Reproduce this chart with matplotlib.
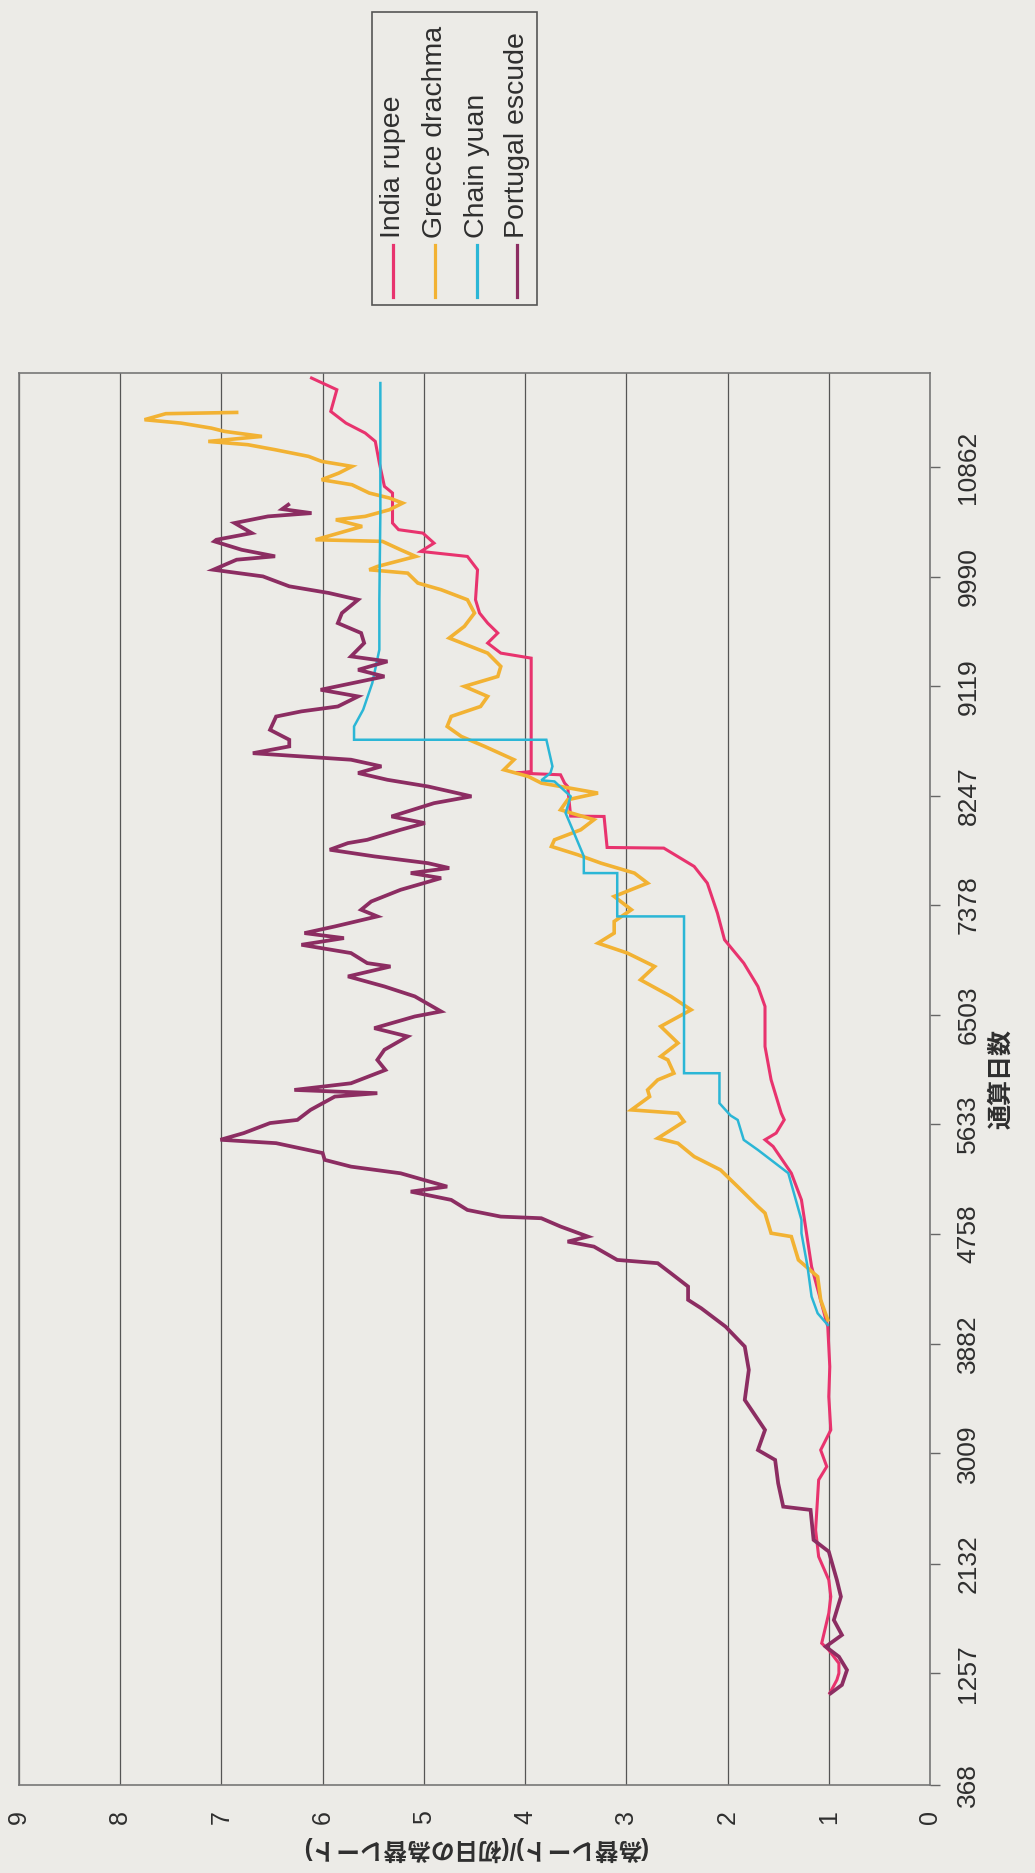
import matplotlib
matplotlib.use("Agg")
import matplotlib.pyplot as plt
from matplotlib.lines import Line2D
from matplotlib.patches import Rectangle

plt.rcParams['font.family'] = ['Liberation Sans', 'Noto Sans CJK JP', 'DejaVu Sans']

# category labels of the day axis and the ratio axis
day_ticks = [368, 1257, 2132, 3009, 3882, 4758, 5633, 6503, 7378, 8247, 9119, 9990, 10862]
ratio_ticks = list(range(10))

series_names = ['India rupee', 'Greece drachma', 'Chain yuan', 'Portugal escude']
series_colors = ['#e8336e', '#f2b233', '#2bb6d6', '#8c2d62']
series_widths = [2.2, 2.6, 1.8, 2.7]

# India rupee
india_day = [1099, 1205, 1258, 1337, 1443, 1497, 1736, 1868, 2001, 2187, 2399, 2798,
             2904, 3036, 3196, 3461, 3700, 4019,
             4497, 4869, 5028, 5241, 5454, 5507, 5560, 5666, 5719, 5985, 6250, 6569,
             6728, 6914, 7100, 7312, 7551, 7684, 7830, 7835, 8082, 8085, 8321, 8348,
             8414, 8428, 8440, 9343, 9383, 9463, 9543, 9622, 9702, 9808, 10047, 10100,
             10153, 10193, 10259, 10339, 10366, 10419, 10658, 10711, 10897,
             11069, 11136, 11215, 11308, 11481, 11574]
india_rate = [0.99, 0.92, 0.90, 0.90, 1.00, 1.07, 1.00, 0.98, 1.00, 1.10, 1.13, 1.10,
              1.02, 1.08, 0.98, 1.00, 0.99, 1.01,
              1.17, 1.24, 1.27, 1.37, 1.55, 1.63, 1.52, 1.44, 1.47, 1.57, 1.63, 1.63,
              1.70, 1.84, 2.03, 2.10, 2.20, 2.33, 2.63, 3.19, 3.22, 3.55, 3.58, 3.61,
              3.65, 4.09, 3.94, 3.94, 4.24, 4.37, 4.27, 4.37, 4.45, 4.49, 4.47, 4.52,
              4.57, 5.03, 4.90, 5.01, 5.25, 5.31, 5.31, 5.39, 5.44,
              5.48, 5.58, 5.77, 5.92, 5.86, 6.11]

# Greece drachma
greece_day = [4072, 4232, 4417, 4550, 4736, 4763, 4923, 4975, 5134, 5267, 5373, 5479,
              5519, 5585, 5652, 5718, 5745, 5851, 5904, 5984, 6037, 6143, 6171, 6277,
              6410, 6542, 6649, 6781, 6887, 6994, 7073, 7153, 7246, 7339, 7445, 7551,
              7631, 7710, 7777, 7843, 7896, 7976, 8056, 8135, 8215, 8268, 8348, 8401,
              8454, 8534, 8640, 8719, 8799, 8879, 8958, 9038, 9118, 9197, 9277, 9383,
              9503, 9596, 9702, 9808, 9888, 9941, 10020, 10047, 10073, 10153, 10206,
              10273, 10286, 10339, 10392, 10445, 10472, 10525, 10578, 10618, 10658,
              10724, 10764, 10817, 10870, 10910, 10950, 11003, 11043, 11069, 11109,
              11149, 11175, 11215, 11242, 11290, 11300]
greece_rate = [1.01, 1.08, 1.11, 1.30, 1.37, 1.57, 1.63, 1.70, 1.90, 2.07, 2.33, 2.49,
               2.69, 2.56, 2.43, 2.49, 2.95, 2.77, 2.79, 2.69, 2.53, 2.59, 2.66, 2.49,
               2.66, 2.36, 2.56, 2.86, 2.72, 2.99, 3.28, 3.12, 3.12, 2.95, 3.12, 2.79,
               2.92, 3.25, 3.48, 3.74, 3.71, 3.45, 3.32, 3.65, 3.58, 3.28, 3.84, 3.97,
               4.21, 4.11, 4.40, 4.63, 4.77, 4.73, 4.44, 4.37, 4.60, 4.27, 4.24, 4.37,
               4.75, 4.60, 4.50, 4.57, 4.83, 5.06, 5.16, 5.54, 5.46, 5.08, 5.23,
               5.41, 6.07, 5.84, 5.61, 5.87, 5.58, 5.34, 5.21, 5.34, 5.54,
               5.71, 6.01, 5.84, 5.71, 6.01, 6.14, 6.47, 6.74, 7.13, 6.60,
               6.97, 7.10, 7.40, 7.76, 7.55, 6.85]

# Chain yuan
china_day = [4032, 4125, 4258, 4497, 4763, 4869, 5241, 5426, 5506, 5665, 5700, 5798,
             6037, 6037, 7286, 7286, 7631, 7631, 7764, 7976, 8109, 8242, 8361, 8370,
             8428, 8481, 8693, 8693, 8799, 8932, 9144, 9410, 9808, 10500, 11534]
china_rate = [1.01, 1.11, 1.17, 1.21, 1.27, 1.27, 1.40, 1.70, 1.84, 1.90, 1.97, 2.08,
              2.08, 2.43, 2.43, 3.09, 3.09, 3.42, 3.42, 3.53, 3.60, 3.55, 3.71, 3.84,
              3.75, 3.73, 3.79, 5.69, 5.69, 5.60, 5.51, 5.44, 5.44, 5.43, 5.43]

# Portugal escude
portugal_day = [1099, 1165, 1284, 1390, 1470, 1563, 1682, 1868, 2001, 2227, 2320, 2559,
                2585, 2771, 2957, 3036, 3196, 3435, 3674, 3860, 4019, 4165, 4232, 4338,
                4444, 4524, 4550,
                4656, 4696, 4736, 4816, 4882, 4895, 4948, 5028, 5094, 5134, 5240, 5293,
                5347, 5401, 5480, 5507, 5560, 5640, 5665, 5745, 5851, 5878, 5904, 5957,
                6063, 6143, 6224, 6330, 6396, 6489, 6529, 6649, 6728, 6808, 6887, 6914,
                6994, 7060, 7113, 7153, 7206, 7286, 7339, 7405, 7498, 7591, 7631, 7671,
                7710, 7764, 7817, 7870, 7896, 7976, 8029, 8082, 8188, 8242, 8268, 8321,
                8374, 8428, 8481, 8534, 8586, 8640, 8693, 8772, 8878, 8919, 8958, 9038,
                9091, 9197, 9250, 9317, 9357, 9463, 9543, 9622, 9702, 9808, 9862, 9915,
                9994, 10047, 10127, 10154, 10206, 10273, 10286, 10339, 10419, 10472,
                10498, 10530, 10565]
portugal_rate = [0.98, 0.87, 0.82, 0.90, 1.03, 0.87, 0.95, 0.88, 0.92, 1.00, 1.15, 1.18,
                 1.45, 1.50, 1.53, 1.70, 1.63, 1.83, 1.79, 1.83, 2.02, 2.26, 2.39, 2.39,
                 2.56, 2.69, 3.09,
                 3.32, 3.58, 3.38, 3.65, 3.84, 4.24, 4.57, 4.73, 5.13, 4.77, 5.23, 5.72,
                 5.98, 6.00, 6.46, 7.01, 6.78, 6.52, 6.25, 6.12, 5.88, 5.46, 6.28, 5.72,
                 5.38, 5.46, 5.39, 5.16, 5.49, 5.09, 4.83, 5.09, 5.39, 5.75, 5.33, 5.56,
                 5.72, 6.21, 5.79, 6.18, 5.88, 5.46, 5.62, 5.52, 5.23, 4.83, 5.13, 4.75,
                 4.96, 5.49, 5.93, 5.75, 5.56, 5.23, 4.99, 5.32, 4.90, 4.53, 4.67, 4.96,
                 5.36, 5.65, 5.42, 5.72, 6.69, 6.33, 6.33, 6.52, 6.46, 6.21, 5.85, 5.65,
                 6.02, 5.39, 5.65, 5.36, 5.72, 5.59, 5.62, 5.85, 5.81, 5.65, 5.94, 6.33,
                 6.59, 7.08, 6.85, 6.47, 6.80, 7.07, 7.05, 6.70, 6.87, 6.54,
                 6.11, 6.40, 6.34]

paper = '#ecebe7'
ink = '#2e2e2e'
W, H = 1035, 1873

fig = plt.figure(figsize=(W / 100, H / 100), dpi=100, facecolor=paper)

# the chart is printed turned a quarter turn: ratio runs right->left, days bottom->top
ax = fig.add_axes([19 / W, 1 - 1785 / H, (930 - 19) / W, (1785 - 373) / H])
ax.set_facecolor(paper)

series = [(india_day, india_rate), (greece_day, greece_rate),
          (china_day, china_rate), (portugal_day, portugal_rate)]
for (d, r), c, w in zip(series, series_colors, series_widths):
    ax.plot(r, d, color=c, lw=w, solid_joinstyle='miter')

ax.set_xlim(9, 0)
ax.set_ylim(368, 11614)
ax.set_xticks(ratio_ticks)
ax.set_xticklabels([str(t) for t in ratio_ticks], rotation=90, fontsize=18, color=ink)
ax.tick_params(axis='x', length=0, pad=18)
ax.grid(axis='x', color='#555555', lw=0.9)
ax.set_axisbelow(True)

ax.yaxis.tick_right()
ax.set_yticks(day_ticks)
ax.set_yticklabels([str(t) for t in day_ticks], rotation=90, va='center',
                   fontsize=19, color=ink)
ax.tick_params(axis='y', direction='out', length=7, width=1, color='#666666', pad=12)

for s in ax.spines.values():
    s.set_color('#777777')
    s.set_linewidth(1.2)

ax.set_xlabel('(為替レート)/(初日の為替レート)', rotation=180, fontsize=17,
              fontweight='bold', color=ink, labelpad=9)
ax.yaxis.set_label_position('right')
ax.set_ylabel('通算日数', rotation=90, fontsize=18, fontweight='bold',
              color=ink, labelpad=6)

# legend box, drawn turned like the rest of the chart
fig.patches.append(Rectangle((372 / W, 1 - 305 / H), (537 - 372) / W, (305 - 12) / H,
                             transform=fig.transFigure, facecolor=paper,
                             edgecolor='#555555', lw=1.2))
legend_x = [393, 435, 477, 517]
for x, name, c in zip(legend_x, series_names, series_colors):
    fig.lines.append(Line2D([x / W, x / W], [1 - 297 / H, 1 - 245 / H],
                            transform=fig.transFigure, color=c, lw=2.3))
    fig.text(x / W, 1 - 238 / H, name, rotation=90, ha='center', va='bottom',
             fontsize=20.5, color=ink)

fig.savefig('out.png', dpi=100, facecolor=paper)
